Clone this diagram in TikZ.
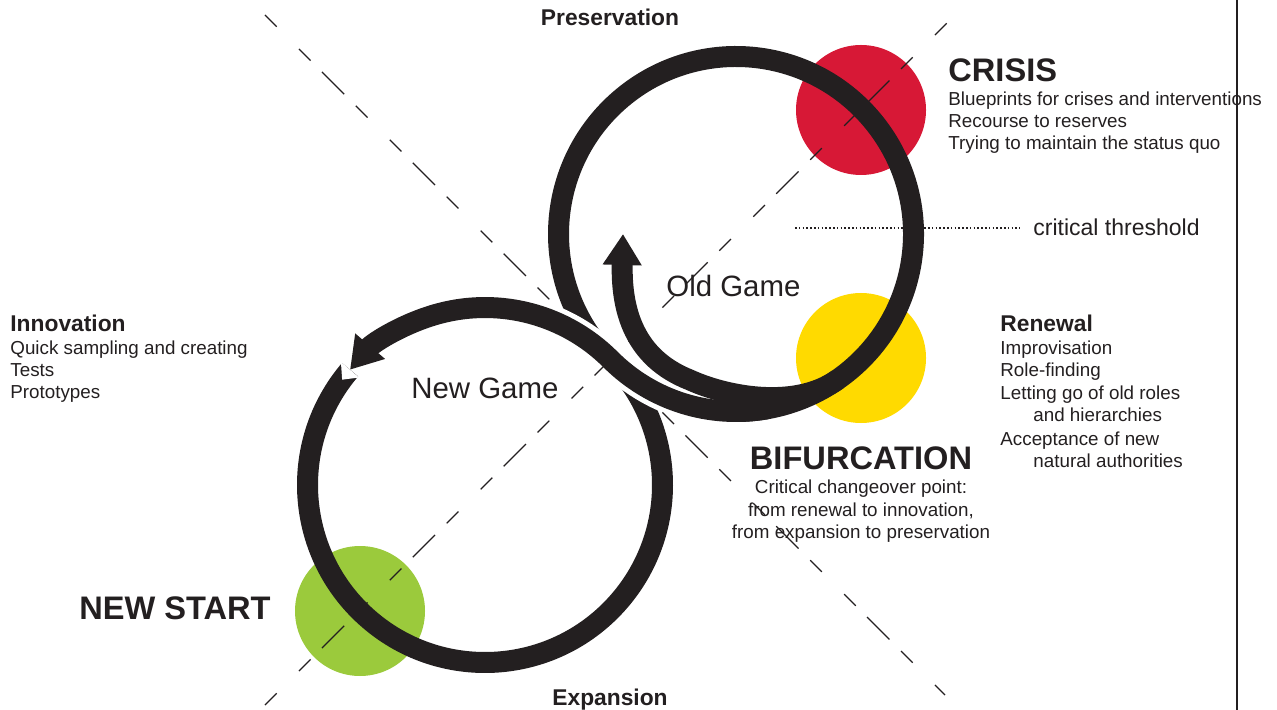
\documentclass[tikz,border=0pt]{standalone}
\usepackage{fontspec}
\setmainfont{Liberation Sans}
\usetikzlibrary{arrows.meta,calc}
\definecolor{inkBlack}{RGB}{35,31,32}
\definecolor{crisisRed}{RGB}{215,24,54}
\definecolor{renewalYellow}{RGB}{255,218,0}
\definecolor{startGreen}{RGB}{155,202,60}

\begin{document}
\begin{tikzpicture}
[x=0.5pt,y=-0.5pt,%
  bandLine/.style={line width=10.5pt,color=inkBlack},%
  bandBorder/.style={line width=15.5pt,color=white},%
  bandArrow/.style={-{Triangle[length=15.5pt,width=18.5pt]}},%
  dashDiagonal/.style={line width=0.6pt,color=inkBlack,dash pattern=on 8.25pt off 15.75pt on 8.25pt off 8pt on 15.75pt off 8.25pt},%
  thresholdDots/.style={line width=0.8pt,color=inkBlack,dash pattern=on 0.8pt off 1.1pt},%
  spotDecorate/.style={shape=circle,minimum size=65pt,inner sep=0pt},%
  headText/.style={font=\fontsize{16.3}{18}\selectfont\bfseries,text=inkBlack,inner sep=0pt},%
  titleText/.style={font=\fontsize{11.4}{13}\selectfont\bfseries,text=inkBlack,inner sep=0pt},%
  bodyText/.style={font=\fontsize{9.4}{11}\selectfont,text=inkBlack,inner sep=0pt},%
  gameText/.style={font=\fontsize{14.7}{16}\selectfont,text=inkBlack,inner sep=0pt}]
\useasboundingbox (0,0) rectangle (1277,710);
%% coloured spots
\foreach \nodename/\x/\y/\colour in {crisis/861/110/crisisRed, renewal/861/358/renewalYellow, newstart/360/611/startGreen}
{
  \node (\nodename) at (\x,\y) [spotDecorate,fill=\colour] {};
}
%% critical threshold
\node (threshold) at (1033,236) [anchor=base west,font=\fontsize{11.5}{13}\selectfont,text=inkBlack,inner sep=0pt] {critical threshold};
\coordinate (thresholdStart) at ([xshift=-119pt]threshold.west);
\draw[thresholdDots] (thresholdStart) -- ([xshift=-6.5pt]threshold.west);
%% centres of the two games
\coordinate (oldCentre) at (736,234);
\coordinate (newCentre) at (485,485);
%% old game ring
\draw[bandLine] (oldCentre) ++(140:177.5) arc[start angle=140,end angle=450,radius=177.5];
%% new game ring with notched tail
\draw[bandLine] (newCentre) ++(-139.5:177.5) arc[start angle=-139.5,end angle=-400,radius=177.5];
\fill[white] ($(newCentre)+(-139.5:189.5)$) -- ($(newCentre)+(-143.6:177.5)$) -- ($(newCentre)+(-139.5:165.5)$) -- cycle;
%% crossing band, old game into new game
\draw[bandBorder] (oldCentre) ++(95:177.5) arc[start angle=95,end angle=135,radius=177.5]
  arc[start angle=-45,end angle=-90,radius=177.5];
\draw[bandLine,bandArrow] (oldCentre) ++(80:177.5) arc[start angle=80,end angle=135,radius=177.5]
  arc[start angle=-45,end angle=-139.5,radius=177.5];
%% inner arrow back into the old game
\coordinate (innerStart) at ($(oldCentre)+(55:177.5)$);
\coordinate (innerBend) at (690,380);
\coordinate (innerTip) at (623,234);
\draw[bandLine,bandArrow] (innerStart) .. controls (793,411) and (722.6,395) .. (innerBend)
  .. controls (634,358) and (621,310) .. (innerTip);
%% dashed diagonals
\coordinate (diagTopLeft) at (265,15);
\coordinate (diagBottomRight) at (945,695);
\coordinate (diagBottomLeft) at (265,705);
\coordinate (diagTopRight) at (957,13);
\draw[dashDiagonal] (diagTopLeft) -- (diagBottomRight);
\draw[dashDiagonal] (diagBottomLeft) -- (diagTopRight);
%% right rule
\coordinate (ruleTop) at (1237,0);
\coordinate (ruleBottom) at (1237,710);
\draw[line width=1pt,color=inkBlack] (ruleTop) -- (ruleBottom);
%% headings
\foreach \nodename/\x/\y/\side/\txt in {crisisHead/948/82/base west/CRISIS,
  bifurcationHead/861/469/base/BIFURCATION, newstartHead/271/619/base east/NEW START}
{
  \node (\nodename) at (\x,\y) [headText,anchor=\side] {\txt};
}
%% titles
\foreach \nodename/\x/\y/\side/\txt in {preservation/610/26/base/Preservation,
  expansion/610/705/base/Expansion, innovation/10/332/base west/Innovation,
  renewalTitle/1000/332/base west/Renewal}
{
  \node (\nodename) at (\x,\y) [titleText,anchor=\side] {\txt};
}
%% body lines
\foreach \nodename/\x/\y/\side/\txt in {
  crisis1/948/106/base west/Blueprints for crises and interventions,
  crisis2/948/128/base west/Recourse to reserves,
  crisis3/948/150/base west/Trying to maintain the status quo,
  innovation1/10/355/base west/Quick sampling and creating,
  innovation2/10/377/base west/Tests,
  innovation3/10/399/base west/Prototypes,
  renewal1/1000/355/base west/Improvisation,
  renewal2/1000/377/base west/Role-finding,
  renewal3/1000/400/base west/Letting go of old roles,
  renewal4/1033/422/base west/and hierarchies,
  renewal5/1000/445/base west/Acceptance of new,
  renewal6/1033/467/base west/natural authorities,
  bifurcation1/861/493/base/Critical changeover point:,
  bifurcation2/861/516/base/{from renewal to innovation,},
  bifurcation3/861/538/base/from expansion to preservation}
{
  \node (\nodename) at (\x,\y) [bodyText,anchor=\side] {\txt};
}
%% game names
\node (oldGame) at (666,297) [gameText,anchor=base west] {Old Game};
\node (newGame) at (411,399) [gameText,anchor=base west] {New Game};
\end{tikzpicture}
\end{document}
